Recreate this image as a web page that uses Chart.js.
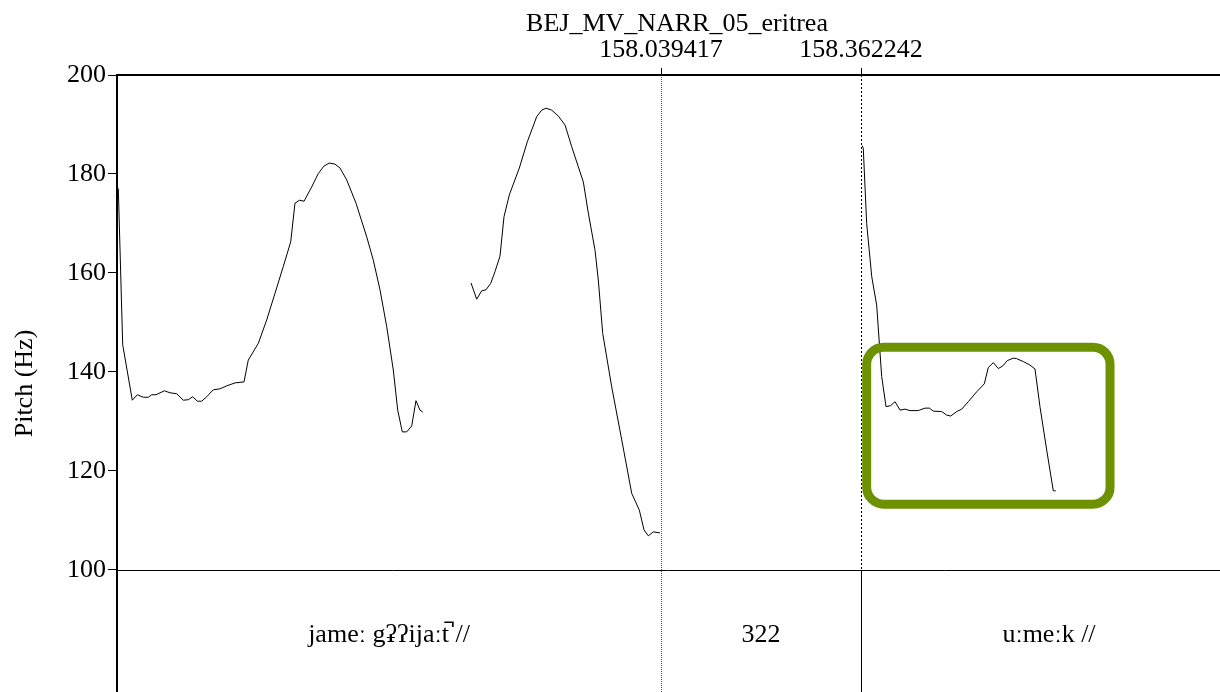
<!DOCTYPE html>
<html>
<head>
<meta charset="utf-8">
<script src="https://cdn.jsdelivr.net/npm/chart.js@4/dist/chart.umd.min.js"></script>
<style>
  html, body { margin: 0; padding: 0; background: #fff; overflow: hidden; }
  canvas { display: block; }
</style>
</head>
<body>
<canvas id="pitch-chart" width="1220" height="692"></canvas>
<script>
// pitch track (time in s, pitch in Hz)
const seg1Time = [157.1634, 157.1705, 157.1860, 157.1941, 157.2038, 157.2118, 157.2173, 157.2243, 157.2377, 157.2469,
  157.2577, 157.2683, 157.2764, 157.2835, 157.2909, 157.2980, 157.3061, 157.3167, 157.3276, 157.3384,
  157.3518, 157.3663, 157.3732, 157.3894, 157.4029, 157.4163, 157.4297, 157.4417, 157.4486, 157.4556,
  157.4632, 157.4756, 157.4862, 157.4954, 157.5040, 157.5132, 157.5213, 157.5321, 157.5471, 157.5644,
  157.5750, 157.5858, 157.5966, 157.6073, 157.6144, 157.6218, 157.6289, 157.6370, 157.6439, 157.6504, 157.6548];
const seg1Pitch = [177.1, 145.5, 134.3, 135.4, 134.9, 134.9, 135.4, 135.4, 136.2, 135.8,
  135.6, 134.3, 134.4, 135.0, 134.1, 134.1, 135.0, 136.4, 136.6, 137.2,
  137.8, 138.0, 142.4, 145.8, 150.5, 155.9, 161.3, 166.3, 174.1, 174.7,
  174.5, 177.4, 180.1, 181.6, 182.2, 182.0, 181.2, 178.8, 174.1, 167.3,
  162.6, 156.6, 149.2, 140.4, 132.3, 127.9, 127.9, 129.1, 134.2, 132.3, 131.9];

const seg2Time = [157.7327, 157.7419, 157.7500, 157.7569, 157.7645, 157.7715, 157.7795, 157.7860, 157.7946, 157.8107,
  157.8236, 157.8388, 157.8469, 157.8538, 157.8630, 157.8737, 157.8845, 157.8953, 157.9140, 157.9221,
  157.9329, 157.9382, 157.9453, 157.9598, 157.9760, 157.9921, 158.0044, 158.0120, 158.0189, 158.0270, 158.0378];
const seg2Pitch = [158.0, 154.7, 156.4, 156.6, 157.9, 160.3, 163.4, 171.4, 175.8, 181.2,
  186.5, 191.6, 192.9, 193.3, 192.9, 191.7, 189.9, 185.5, 178.4, 172.1,
  164.6, 158.6, 147.8, 137.0, 126.3, 115.5, 112.1, 108.1, 106.9, 107.7, 107.5];

const seg3Time = [158.3643, 158.3659, 158.3714, 158.3795, 158.3875, 158.3956, 158.4026, 158.4101, 158.4171, 158.4252,
  158.4332, 158.4413, 158.4547, 158.4655, 158.4725, 158.4789, 158.4925, 158.5005, 158.5070, 158.5167,
  158.5248, 158.5354, 158.5490, 158.5612, 158.5677, 158.5758, 158.5838, 158.5909, 158.5984, 158.6080,
  158.6135, 158.6242, 158.6350, 158.6431, 158.6511, 158.6620, 158.6726, 158.6765];
const seg3Pitch = [185.7, 185.2, 170.0, 159.3, 153.5, 139.1, 133.0, 133.2, 134.0, 132.3,
  132.5, 132.2, 132.2, 132.7, 132.7, 132.1, 132.0, 131.3, 131.1, 132.0,
  132.5, 134.0, 136.0, 137.6, 140.9, 141.9, 140.7, 141.2, 142.3, 142.8,
  142.7, 142.1, 141.4, 140.6, 133.0, 124.2, 116.0, 116.0];

const yTicks = [100, 120, 140, 160, 180, 200];
const boundaries = [158.039417, 158.362242];
const tierLabels = ['jameː gʡʔijaːt̚ //', '322', 'uːmeːk //'];
const chartTitle = 'BEJ_MV_NARR_05_eritrea';

const windowStart = 157.1613;
const windowEnd = 158.9691;   // real end of the praat window (a bit past the picture)
const viewEnd = 158.9417;     // what fits on the canvas
const tierFloor = 75.35;      // bottom of the text tier, below 100 Hz

// highlighted region (time / Hz)
const boxTime = [158.3714, 158.7642];
const boxPitch = [113.3, 145.0];

const serif = '"Liberation Serif", "Times New Roman", serif';

function toPoints(times, pitches) {
    return times.map((t, i) => ({ x: t, y: pitches[i] }));
}

const praatDecor = {
    id: 'praatDecor',
    beforeDatasetsDraw(chart) {
        const { ctx, chartArea, scales: { x, y } } = chart;
        ctx.save();
        // 100 Hz line separating the pitch area from the text tier
        const y100 = y.getPixelForValue(100);
        ctx.strokeStyle = '#000';
        ctx.lineWidth = 1;
        ctx.beginPath();
        ctx.moveTo(chartArea.left, Math.round(y100) + 0.5);
        ctx.lineTo(chartArea.right, Math.round(y100) + 0.5);
        ctx.stroke();

        // boundaries
        boundaries.forEach((b, i) => {
            const px = Math.round(x.getPixelForValue(b)) + 0.5;
            ctx.strokeStyle = i === 0 ? '#555' : '#000';
            ctx.setLineDash(i === 0 ? [1, 1] : [2, 2]);
            ctx.beginPath();
            ctx.moveTo(px, chartArea.top);
            ctx.lineTo(px, i === 0 ? chartArea.bottom : y100);
            ctx.stroke();
            if (i === 1) {
                ctx.setLineDash([]);
                ctx.beginPath();
                ctx.moveTo(px, y100);
                ctx.lineTo(px, chartArea.bottom);
                ctx.stroke();
            }
            ctx.setLineDash([]);
            ctx.strokeStyle = '#000';
            ctx.beginPath();
            ctx.moveTo(px, chartArea.top - 7);
            ctx.lineTo(px, chartArea.top);
            ctx.stroke();
        });

        // top frame line
        ctx.lineWidth = 2;
        ctx.beginPath();
        ctx.moveTo(chartArea.left, chartArea.top);
        ctx.lineTo(chartArea.right, chartArea.top);
        ctx.stroke();

        // texts
        ctx.fillStyle = '#000';
        ctx.font = '26px ' + serif;
        ctx.textAlign = 'center';
        ctx.textBaseline = 'alphabetic';
        const midWin = x.getPixelForValue((windowStart + windowEnd) / 2);
        ctx.fillText(chartTitle, midWin, 31);
        boundaries.forEach(b => {
            ctx.fillText(b.toFixed(6), x.getPixelForValue(b), 57);
        });
        const edges = [windowStart, ...boundaries, windowEnd];
        tierLabels.forEach((lab, i) => {
            const cx = x.getPixelForValue((edges[i] + edges[i + 1]) / 2);
            ctx.fillText(lab, cx, 642);
        });
        ctx.restore();
    },
    afterDatasetsDraw(chart) {
        const { ctx, scales: { x, y } } = chart;
        const l = x.getPixelForValue(boxTime[0]);
        const r = x.getPixelForValue(boxTime[1]);
        const t = y.getPixelForValue(boxPitch[1]);
        const b = y.getPixelForValue(boxPitch[0]);
        ctx.save();
        ctx.strokeStyle = '#6e9100';
        ctx.lineWidth = 9;
        ctx.beginPath();
        ctx.roundRect(l, t, r - l, b - t, 17);
        ctx.stroke();
        ctx.restore();
    }
};

new Chart(document.querySelector('#pitch-chart').getContext('2d'), {
    type: 'line',
    data: {
        datasets: [
            { label: 'seg1', data: toPoints(seg1Time, seg1Pitch) },
            { label: 'seg2', data: toPoints(seg2Time, seg2Pitch) },
            { label: 'seg3', data: toPoints(seg3Time, seg3Pitch) }
        ].map(ds => ({
            ...ds,
            borderColor: '#000',
            borderWidth: 1,
            pointRadius: 0,
            fill: false,
            tension: 0
        }))
    },
    options: {
        responsive: false,
        animation: false,
        layout: { padding: { top: 75, left: 0, right: 0, bottom: 0 } },
        plugins: {
            legend: { display: false },
            tooltip: { enabled: false }
        },
        scales: {
            x: {
                type: 'linear',
                min: windowStart,
                max: viewEnd,
                display: false
            },
            y: {
                type: 'linear',
                min: tierFloor,
                max: 200,
                afterBuildTicks: scale => { scale.ticks = yTicks.map(v => ({ value: v })); },
                afterFit: scale => {
                    scale.width = 117;
                    scale.paddingTop = 0;
                    scale.paddingBottom = 0;
                },
                ticks: {
                    color: '#000',
                    padding: 2,
                    font: { family: serif, size: 26 }
                },
                grid: {
                    drawOnChartArea: false,
                    drawTicks: true,
                    tickLength: 9,
                    color: '#000',
                    lineWidth: 1
                },
                border: { display: true, color: '#000', width: 2 },
                title: {
                    display: true,
                    text: 'Pitch (Hz)',
                    color: '#000',
                    font: { family: serif, size: 26 },
                    padding: { top: 10, bottom: 0 }
                }
            }
        }
    },
    plugins: [praatDecor]
});
</script>
</body>
</html>
